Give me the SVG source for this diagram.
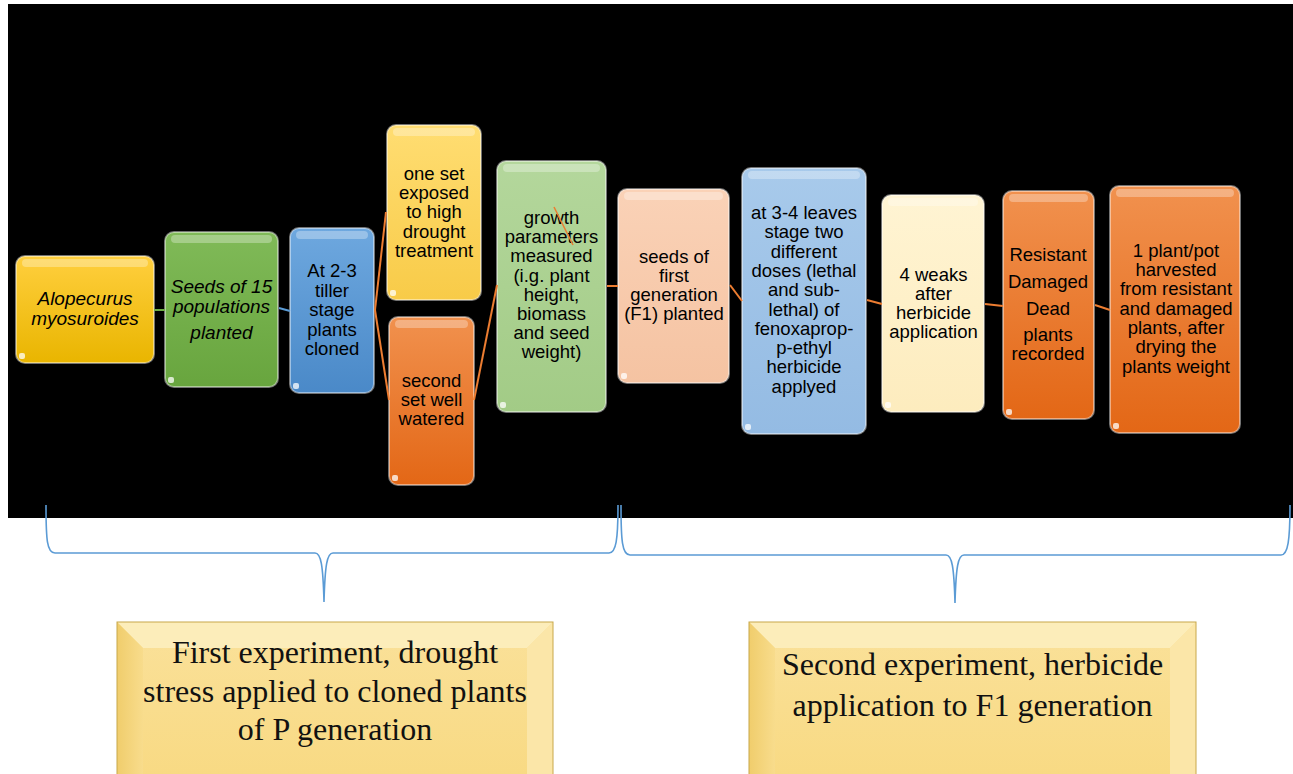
<svg xmlns="http://www.w3.org/2000/svg" width="1293" height="774" viewBox="0 0 1293 774">
<style>
.box{stroke:#ffffff;stroke-opacity:0.45;stroke-width:2}
.hl{fill:#ffffff;fill-opacity:0.3}
.spot{fill:#ffffff;fill-opacity:0.75}
.t{font-family:"Liberation Sans",Arial,sans-serif;font-size:18.5px;fill:#000;text-anchor:middle}
.ti{font-style:italic;font-size:19px}
.conn{fill:none;stroke:#ED7D31;stroke-width:2}
.brace{fill:none;stroke:#5B9BD5;stroke-width:1.6}
.bt{font-family:"Liberation Serif","Times New Roman",serif;font-size:32px;fill:#111;text-anchor:middle}
</style>
<defs>
<linearGradient id="gY" x1="0" y1="0" x2="0" y2="1"><stop offset="0" stop-color="#FFCF3E"/><stop offset="1" stop-color="#E9B500"/></linearGradient>
<linearGradient id="gG" x1="0" y1="0" x2="0" y2="1"><stop offset="0" stop-color="#80BA58"/><stop offset="1" stop-color="#68A53E"/></linearGradient>
<linearGradient id="gB" x1="0" y1="0" x2="0" y2="1"><stop offset="0" stop-color="#6EA8DF"/><stop offset="1" stop-color="#4A89C8"/></linearGradient>
<linearGradient id="gLY" x1="0" y1="0" x2="0" y2="1"><stop offset="0" stop-color="#FFDD72"/><stop offset="1" stop-color="#F8CB48"/></linearGradient>
<linearGradient id="gO" x1="0" y1="0" x2="0" y2="1"><stop offset="0" stop-color="#F1914E"/><stop offset="1" stop-color="#E36716"/></linearGradient>
<linearGradient id="gLG" x1="0" y1="0" x2="0" y2="1"><stop offset="0" stop-color="#B4D79C"/><stop offset="1" stop-color="#A2CB86"/></linearGradient>
<linearGradient id="gP" x1="0" y1="0" x2="0" y2="1"><stop offset="0" stop-color="#FAD2B7"/><stop offset="1" stop-color="#F5C3A2"/></linearGradient>
<linearGradient id="gLB" x1="0" y1="0" x2="0" y2="1"><stop offset="0" stop-color="#A8CAEB"/><stop offset="1" stop-color="#94BBE3"/></linearGradient>
<linearGradient id="gC" x1="0" y1="0" x2="0" y2="1"><stop offset="0" stop-color="#FFF4D3"/><stop offset="1" stop-color="#FDECBE"/></linearGradient>
<linearGradient id="gFace" x1="0" y1="0" x2="0" y2="1"><stop offset="0" stop-color="#FAE19A"/><stop offset="1" stop-color="#F8D981"/></linearGradient>
<linearGradient id="gLeft" x1="0" y1="0" x2="1" y2="0"><stop offset="0" stop-color="#F0CD6C"/><stop offset="1" stop-color="#F8DC8C"/></linearGradient>
</defs>
<rect x="8" y="4" width="1285" height="514" fill="#000"/>

<g id="n1">
<rect class="box" x="16" y="256" width="138" height="107" rx="9" fill="url(#gY)"/>
<rect class="hl" x="22" y="259" width="126" height="8" rx="4"/>
<rect class="spot" x="19" y="353" width="6" height="6" rx="2"/>
<text class="t ti" x="85"><tspan x="85" y="305">Alopecurus</tspan><tspan x="85" y="325">myosuroides</tspan></text>
</g>
<g id="n2">
<rect class="box" x="165" y="232" width="113" height="155" rx="9" fill="url(#gG)"/>
<rect class="hl" x="171" y="235" width="101" height="8" rx="4"/>
<rect class="spot" x="168" y="377" width="6" height="6" rx="2"/>
<text class="t ti" x="221.5"><tspan x="221.5" y="293">Seeds of 15</tspan><tspan x="221.5" y="313">populations</tspan><tspan x="221.5" y="339">planted</tspan></text>
</g>
<g id="n3">
<rect class="box" x="290" y="228" width="84" height="165" rx="9" fill="url(#gB)"/>
<rect class="hl" x="296" y="231" width="72" height="8" rx="4"/>
<rect class="spot" x="293" y="383" width="6" height="6" rx="2"/>
<text class="t" x="332"><tspan x="332" y="277">At 2-3</tspan><tspan x="332" y="296.5">tiller</tspan><tspan x="332" y="316">stage</tspan><tspan x="332" y="335.5">plants</tspan><tspan x="332" y="355">cloned</tspan></text>
</g>
<g id="n4">
<rect class="box" x="387" y="125" width="94" height="175" rx="9" fill="url(#gLY)"/>
<rect class="hl" x="393" y="128" width="82" height="8" rx="4"/>
<rect class="spot" x="390" y="290" width="6" height="6" rx="2"/>
<text class="t" x="434"><tspan x="434" y="180">one set</tspan><tspan x="434" y="199">exposed</tspan><tspan x="434" y="218">to high</tspan><tspan x="434" y="237.5">drought</tspan><tspan x="434" y="257">treatment</tspan></text>
</g>
<g id="n5">
<rect class="box" x="389" y="317" width="85" height="168" rx="9" fill="url(#gO)"/>
<rect class="hl" x="395" y="320" width="73" height="8" rx="4"/>
<rect class="spot" x="392" y="475" width="6" height="6" rx="2"/>
<text class="t" x="431.5"><tspan x="431.5" y="387">second</tspan><tspan x="431.5" y="406">set well</tspan><tspan x="431.5" y="425">watered</tspan></text>
</g>
<g id="n6">
<rect class="box" x="497" y="161" width="109" height="251" rx="9" fill="url(#gLG)"/>
<rect class="hl" x="503" y="164" width="97" height="8" rx="4"/>
<rect class="spot" x="500" y="402" width="6" height="6" rx="2"/>
<text class="t" x="551.5"><tspan x="551.5" y="224">growth</tspan><tspan x="551.5" y="243">parameters</tspan><tspan x="551.5" y="262">measured</tspan><tspan x="551.5" y="282">(i.g. plant</tspan><tspan x="551.5" y="301">height,</tspan><tspan x="551.5" y="320">biomass</tspan><tspan x="551.5" y="339">and seed</tspan><tspan x="551.5" y="358">weight)</tspan></text>
</g>
<g id="n7">
<rect class="box" x="618" y="189" width="111" height="194" rx="9" fill="url(#gP)"/>
<rect class="hl" x="624" y="192" width="99" height="8" rx="4"/>
<rect class="spot" x="621" y="373" width="6" height="6" rx="2"/>
<text class="t" x="674"><tspan x="674" y="263">seeds of</tspan><tspan x="674" y="282">first</tspan><tspan x="674" y="301">generation</tspan><tspan x="674" y="320">(F1) planted</tspan></text>
</g>
<g id="n8">
<rect class="box" x="742" y="168" width="124" height="266" rx="9" fill="url(#gLB)"/>
<rect class="hl" x="748" y="171" width="112" height="8" rx="4"/>
<rect class="spot" x="745" y="424" width="6" height="6" rx="2"/>
<text class="t" x="804"><tspan x="804" y="219">at 3-4 leaves</tspan><tspan x="804" y="238.3">stage two</tspan><tspan x="804" y="257.6">different</tspan><tspan x="804" y="276.9">doses (lethal</tspan><tspan x="804" y="296.2">and sub-</tspan><tspan x="804" y="315.5">lethal) of</tspan><tspan x="804" y="334.8">fenoxaprop-</tspan><tspan x="804" y="354.1">p-ethyl</tspan><tspan x="804" y="373.4">herbicide</tspan><tspan x="804" y="392.7">applyed</tspan></text>
</g>
<g id="n9">
<rect class="box" x="882" y="195" width="102" height="217" rx="9" fill="url(#gC)"/>
<rect class="hl" x="888" y="198" width="90" height="8" rx="4"/>
<rect class="spot" x="885" y="402" width="6" height="6" rx="2"/>
<text class="t" x="933.5"><tspan x="933.5" y="281">4 weaks</tspan><tspan x="933.5" y="300">after</tspan><tspan x="933.5" y="319">herbicide</tspan><tspan x="933.5" y="338">application</tspan></text>
</g>
<g id="n10">
<rect class="box" x="1003" y="191" width="91" height="228" rx="9" fill="url(#gO)"/>
<rect class="hl" x="1009" y="194" width="79" height="8" rx="4"/>
<rect class="spot" x="1006" y="409" width="6" height="6" rx="2"/>
<text class="t" x="1048"><tspan x="1048" y="261">Resistant</tspan><tspan x="1048" y="288">Damaged</tspan><tspan x="1048" y="315">Dead</tspan><tspan x="1048" y="341">plants</tspan><tspan x="1048" y="360">recorded</tspan></text>
</g>
<g id="n11">
<rect class="box" x="1110" y="186" width="130" height="247" rx="9" fill="url(#gO)"/>
<rect class="hl" x="1116" y="189" width="118" height="8" rx="4"/>
<rect class="spot" x="1113" y="423" width="6" height="6" rx="2"/>
<text class="t" x="1176"><tspan x="1176" y="257">1 plant/pot</tspan><tspan x="1176" y="276">harvested</tspan><tspan x="1176" y="295">from resistant</tspan><tspan x="1176" y="315">and damaged</tspan><tspan x="1176" y="334">plants, after</tspan><tspan x="1176" y="353">drying the</tspan><tspan x="1176" y="373">plants weight</tspan></text>
</g>

<g id="connectors">
<line class="conn" x1="154" y1="310" x2="165" y2="310" style="stroke:#70AD47"/>
<line class="conn" x1="279" y1="308" x2="290" y2="311" style="stroke:#5B9BD5"/>
<line class="conn" x1="375" y1="310" x2="386" y2="212"/>
<line class="conn" x1="375" y1="310" x2="389" y2="400"/>
<line class="conn" x1="474" y1="400" x2="497" y2="285"/>
<line class="conn" x1="554" y1="207" x2="573" y2="245" style="stroke-width:1.5"/>
<line class="conn" x1="607" y1="286" x2="618" y2="286"/>
<line class="conn" x1="730" y1="285" x2="742" y2="301"/>
<line class="conn" x1="867" y1="300" x2="882" y2="304"/>
<line class="conn" x1="985" y1="304" x2="1003" y2="306"/>
<line class="conn" x1="1095" y1="305" x2="1110" y2="310"/>
</g>

<g id="braces">
<path class="brace" d="M46,505 C46,540 47,553 55,553 L315,553 C321,553 323,565 324,602 C325,565 327,553 333,553 L609,553 C616,553 618,540 618,505"/>
<path class="brace" d="M621,505 C621,540 622,555 630,555 L946,555 C952,555 954,567 955,603 C956,567 958,555 964,555 L1281,555 C1288,555 1290,540 1290,505"/>
</g>

<g id="exp1">
<rect x="117" y="622" width="436" height="170" fill="url(#gFace)"/>
<polygon points="117,622 553,622 527,648 143,648" fill="#FCEDBA"/>
<polygon points="117,622 143,648 143,792 117,792" fill="url(#gLeft)"/>
<polygon points="553,622 553,792 527,792 527,648" fill="#FBE6A8"/>
<rect x="117" y="622" width="436" height="170" fill="none" stroke="#C8A84A" stroke-width="1"/>
<text class="bt"><tspan x="335" y="663">First experiment, drought</tspan><tspan x="335" y="702">stress applied to cloned plants</tspan><tspan x="335" y="740">of P generation</tspan></text>
</g>
<g id="exp2">
<rect x="749" y="622" width="447" height="170" fill="url(#gFace)"/>
<polygon points="749,622 1196,622 1170,648 775,648" fill="#FCEDBA"/>
<polygon points="749,622 775,648 775,792 749,792" fill="url(#gLeft)"/>
<polygon points="1196,622 1196,792 1170,792 1170,648" fill="#FBE6A8"/>
<rect x="749" y="622" width="447" height="170" fill="none" stroke="#C8A84A" stroke-width="1"/>
<text class="bt"><tspan x="972.5" y="675">Second experiment, herbicide</tspan><tspan x="972.5" y="716">application to F1 generation</tspan></text>
</g>
</svg>
